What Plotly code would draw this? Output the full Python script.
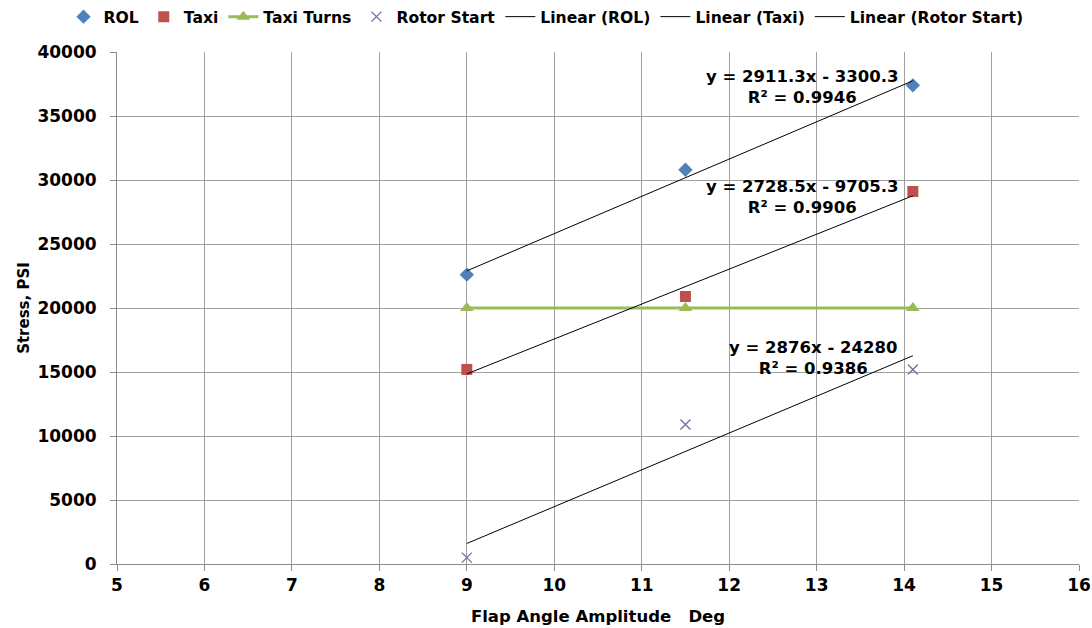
import numpy as np
import plotly.graph_objects as go

x_vals = [9, 11.5, 14.1]
rol = [22600, 30800, 37400]
taxi = [15200, 20900, 29100]
taxi_turns = [20000, 20000, 20000]
rotor_start = [500, 10900, 15200]

fit_names = ["Linear (ROL)", "Linear (Taxi)", "Linear (Rotor Start)"]
slopes = [2911.3, 2728.5, 2876.0]
intercepts = [-3300.3, -9705.3, -24280.0]
fit_labels = ["y = 2911.3x - 3300.3<br>R² = 0.9946",
              "y = 2728.5x - 9705.3<br>R² = 0.9906",
              "y = 2876x - 24280<br>R² = 0.9386"]
label_pos_x = [12.83, 12.83, 12.96]
label_pos_y = [37250, 28700, 16130]

FONT = "DejaVu Sans"
fig = go.Figure()

fig.add_trace(go.Scatter(x=x_vals, y=rol, mode="markers", name="ROL",
                         marker=dict(symbol="diamond", size=11, color="#4F81BD")))
fig.add_trace(go.Scatter(x=x_vals, y=taxi, mode="markers", name="Taxi",
                         marker=dict(symbol="square", size=11, color="#C0504D")))
fig.add_trace(go.Scatter(x=x_vals, y=taxi_turns, mode="lines+markers", name="Taxi Turns",
                         line=dict(color="#9BBB59", width=3),
                         marker=dict(symbol="triangle-up", size=12, color="#9BBB59")))
fig.add_trace(go.Scatter(x=x_vals, y=rotor_start, mode="markers", name="Rotor Start",
                         marker=dict(symbol="x-thin", size=10, color="#8064A2",
                                     line=dict(width=1.3, color="#8064A2"))))

xfit = np.array([min(x_vals), max(x_vals)])
for nm, m, b in zip(fit_names, slopes, intercepts):
    fig.add_trace(go.Scatter(x=xfit, y=m * xfit + b, mode="lines", name=nm,
                             line=dict(color="black", width=1)))

for txt, ax, ay in zip(fit_labels, label_pos_x, label_pos_y):
    fig.add_annotation(x=ax, y=ay, text=txt, showarrow=False, align="center",
                       font=dict(family=FONT, size=16.5, color="black", weight="bold"))

axis_common = dict(showgrid=True, gridcolor="#a0a0a0", gridwidth=1,
                   showline=True, linecolor="#8a8a8a", linewidth=1,
                   ticks="outside", ticklen=6, tickcolor="#8a8a8a",
                   zeroline=False, automargin=False,
                   tickfont=dict(family=FONT, size=17, color="black", weight="bold"))

fig.update_layout(
    width=1092, height=628,
    paper_bgcolor="white", plot_bgcolor="white",
    margin=dict(l=117, r=13, t=52, b=64),
    font=dict(family=FONT, color="black"),
    xaxis=dict(range=[5, 16], dtick=1, tick0=5,
               title=dict(text="Flap Angle Amplitude   Deg", standoff=16,
                          font=dict(family=FONT, size=16.5, color="black", weight="bold")),
               **axis_common),
    yaxis=dict(range=[0, 40000], dtick=5000, tick0=0, tickformat="d",
               ticklabelstandoff=10,
               title=dict(text="Stress, PSI", standoff=4,
                          font=dict(family=FONT, size=15, color="black", weight="bold")),
               **axis_common),
    legend=dict(orientation="h", xref="container", yref="container",
                x=0.5, xanchor="center", y=1.0, yanchor="top",
                font=dict(family=FONT, size=15.6, color="black", weight="bold"),
                itemwidth=30, tracegroupgap=0, bgcolor="rgba(0,0,0,0)"),
    showlegend=True,
)

fig.write_html("out.html")
